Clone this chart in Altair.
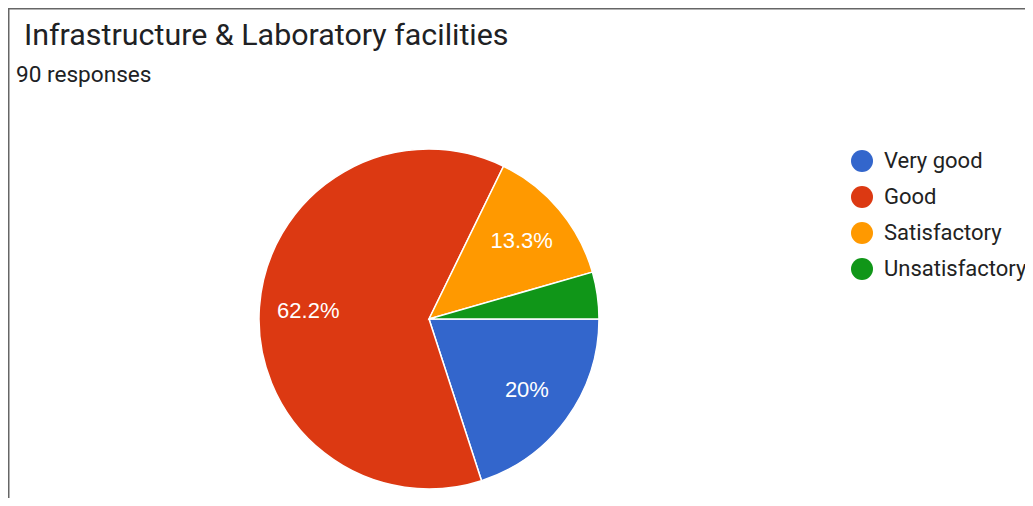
import math
import altair as alt
import pandas as pd

categories = ["Very good", "Good", "Satisfactory", "Unsatisfactory"]
counts = [18, 56, 12, 4]
slice_labels = ["20%", "62.2%", "13.3%", ""]
colors = ["#3366cc", "#dc3912", "#ff9900", "#109618"]
title_text = "Infrastructure & Laboratory facilities"
subtitle_text = "90 responses"

df = pd.DataFrame({
    "category": categories,
    "count": counts,
    "label": slice_labels,
    "order": list(range(len(categories))),
})

W, H = 1017, 490
CX, CY = 421, 311
R = 170

theta = alt.Theta(
    "count:Q", stack=True,
    scale=alt.Scale(range=[math.pi / 2, math.pi / 2 + 2 * math.pi]),
)
color = alt.Color(
    "category:N",
    sort=categories,
    scale=alt.Scale(domain=categories, range=colors),
    legend=alt.Legend(
        title=None, orient="none", legendX=843, legendY=142,
        symbolType="circle", symbolSize=484, symbolStrokeWidth=0, symbolOpacity=1,
        labelFontSize=22, labelFont="Roboto", labelColor="#222222",
        labelOffset=11, rowPadding=14, padding=0,
    ),
)

base = alt.Chart(df).encode(
    theta=theta,
    order=alt.Order("order:Q"),
    x=alt.value(CX),
    y=alt.value(CY),
)

pie = base.mark_arc(radius=R, stroke="white", strokeWidth=1.5).encode(color=color)
pct = base.mark_text(radius=121, fontSize=22, font="Liberation Sans", color="white").encode(text="label:N")

tdf = pd.DataFrame({"t": [title_text], "s": [subtitle_text]})
title = alt.Chart(tdf).mark_text(
    align="left", baseline="alphabetic", fontSize=30.4, font="Roboto", color="#202124"
).encode(text="t:N", x=alt.value(16), y=alt.value(37))
subtitle = alt.Chart(tdf).mark_text(
    align="left", baseline="alphabetic", fontSize=22.6, font="Roboto", color="#202124"
).encode(text="s:N", x=alt.value(8), y=alt.value(74))

border_top = alt.Chart(tdf).mark_rule(color="#666666", strokeWidth=1.5).encode(
    x=alt.value(0), x2=alt.value(W), y=alt.value(0.75)
)
border_left = alt.Chart(tdf).mark_rule(color="#666666", strokeWidth=1.5).encode(
    x=alt.value(0.75), y=alt.value(0), y2=alt.value(H)
)

chart = alt.layer(border_top, border_left, pie, pct, title, subtitle).properties(
    width=W, height=H, padding=0, autosize=alt.AutoSizeParams(type="none")
).configure_view(stroke=None)

chart.save("out.html", embed_options={"renderer": "svg", "actions": False})
